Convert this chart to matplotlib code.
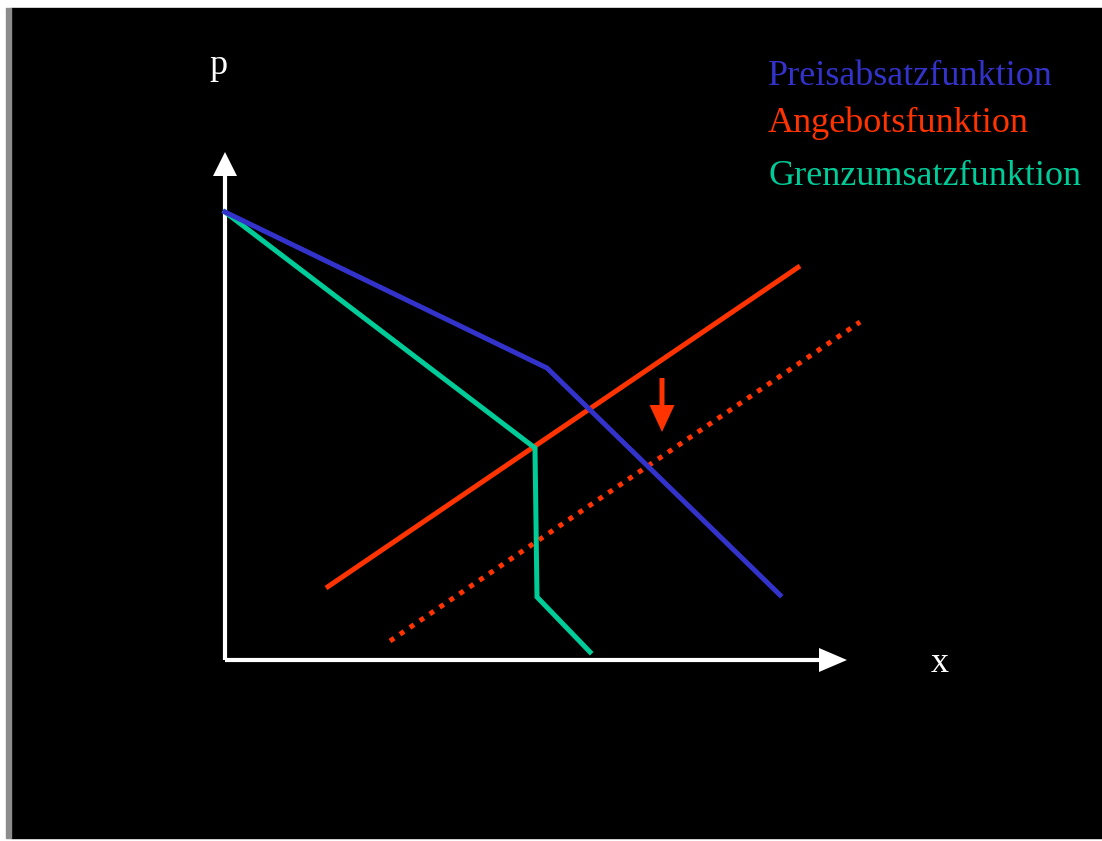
import matplotlib
matplotlib.use("Agg")
import matplotlib.pyplot as plt
from matplotlib.patches import Rectangle

# curve data (x, p), origin at the corner of the axes
pa_x = [0, 322, 555]          # Preisabsatzfunktion
pa_p = [448, 292, 65]
gu_x = [0, 310, 312, 365]     # Grenzumsatzfunktion
gu_p = [448, 212, 63, 8]
an_x = [101, 575]             # Angebotsfunktion
an_p = [72, 394]
an2_x = [165, 635]            # shifted supply (dotted)
an2_p = [19, 338]
shift_x = 437                 # arrow showing the shift
shift_p = [282, 228]

labels = ["Preisabsatzfunktion", "Angebotsfunktion", "Grenzumsatzfunktion"]
label_p = [584, 537, 484]

blue = "#3333cc"
red = "#ff3300"
teal = "#00cc99"

fig = plt.figure(figsize=(11.02, 8.41), dpi=100, facecolor="white")
ax = fig.add_axes([0, 0, 1, 1])
ax.set_xlim(-225, 877)
ax.set_ylim(-181, 660)
ax.axis("off")

# black slide background with grey left edge
ax.add_patch(Rectangle((-214, -178), 1091, 830, color="black", zorder=0))
ax.add_patch(Rectangle((-219, -178), 5, 830, color="#8c8c8c", zorder=0))

# axes arrows
ax.plot([0, 0], [0, 490], color="white", lw=3, solid_capstyle="butt")
ax.plot([0, 600], [0, 0], color="white", lw=3, solid_capstyle="butt")
ax.arrow(0, 480, 0, 28, width=0, head_width=24, head_length=24,
         length_includes_head=True, color="white", lw=0)
ax.arrow(590, 0, 32, 0, width=0, head_width=24, head_length=28,
         length_includes_head=True, color="white", lw=0)

ax.plot(an_x, an_p, color=red, lw=3.6, solid_capstyle="butt")
ax.plot(an2_x, an2_p, color=red, lw=3.6, linestyle=(0, (1, 1.4)))
ax.plot(gu_x, gu_p, color=teal, lw=3.6, solid_joinstyle="miter")
ax.plot(pa_x, pa_p, color=blue, lw=3.6, solid_joinstyle="miter")

ax.arrow(shift_x, shift_p[0], 0, shift_p[1] - shift_p[0], width=5,
         head_width=25, head_length=27, length_includes_head=True,
         color=red, lw=0)

serif = "Liberation Serif"
ax.text(-7, 595, "p", color="white", fontsize=26, family=serif,
        ha="center", va="center")
ax.text(715, -3, "x", color="white", fontsize=26, family=serif,
        ha="center", va="center")
for lab, yp, c in zip(labels, label_p, [blue, red, teal]):
    ax.text(543, yp, lab, color=c, fontsize=26, family=serif,
            ha="left", va="center")

fig.savefig("out.png", dpi=100, facecolor="white")
